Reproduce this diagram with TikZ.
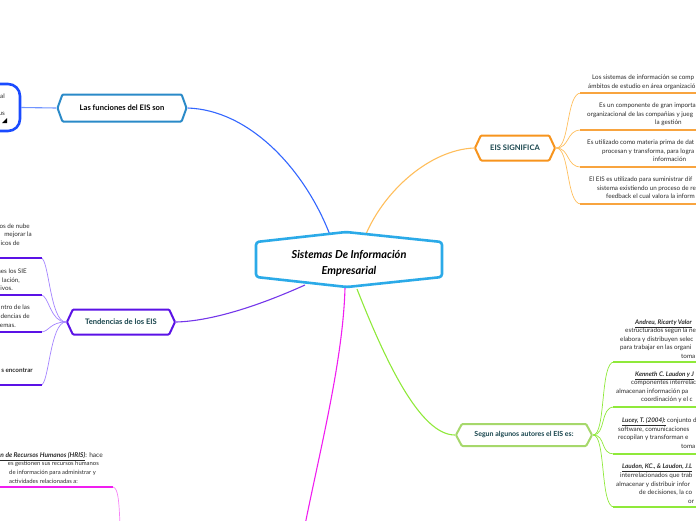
\documentclass[tikz,border=0pt]{standalone}
\usepackage{fontspec}
\setmainfont{Lato}
\usepackage{xcolor}
\usetikzlibrary{shapes.symbols,backgrounds}
\definecolor{csky}{HTML}{2BAAE8}
\definecolor{cblue}{HTML}{3366FF}
\definecolor{csteel}{HTML}{2A8AC8}
\definecolor{croyal}{HTML}{1A4BFF}
\definecolor{corange}{HTML}{F7941D}
\definecolor{corangel}{HTML}{FFBE5C}
\definecolor{cpurple}{HTML}{5B12E6}
\definecolor{cpurplel}{HTML}{A383FF}
\definecolor{cgreen}{HTML}{A6D86B}
\definecolor{cgreenl}{HTML}{8FE93A}
\definecolor{cmag}{HTML}{F01EF0}
\definecolor{cteal}{HTML}{17444C}
\definecolor{ctext}{HTML}{2B2B2B}

\begin{document}
\begin{tikzpicture}[x=1pt,y=-1pt,
  topic/.style={signal,signal to=west and east,draw,line width=2pt,fill=white,
                rounded corners=1pt,inner sep=0pt,text=cteal,
                font=\fontsize{7.6}{9}\selectfont\bfseries},
  leaf/.style={inner sep=0pt,text=ctext,font=\fontsize{6.3}{7}\selectfont},
  link/.style={line width=1.1pt},
  twig/.style={line width=0.7pt},
  rule/.style={line width=1.4pt}
]
\useasboundingbox (0,0) rectangle (696,520);

% central topic
\draw[csky,line width=2.6pt,fill=white,rounded corners=3pt]
  (256,242) -- (346,232) -- (442,242) -- (442,277) -- (347,287) -- (256,277) -- cycle;
\node[font=\fontsize{11}{16}\selectfont\bfseries\itshape,align=center] (sistemas) at (349,263)
  {Sistemas De Información\\Empresarial};
\coordinate (sis-n1) at (330,235);
\coordinate (sis-n2) at (366,234);
\coordinate (sis-s1) at (305,285);
\coordinate (sis-s2) at (345,288);
\coordinate (sis-s3) at (357,289);
\coordinate (mag-end) at (305,525);

% main topics
\node[topic,text=black,draw=csteel,minimum width=129pt,minimum height=27pt,
      signal pointer angle=140] (funciones) at (122,108) {Las funciones del EIS son};
\node[topic,draw=corange,minimum width=80pt,minimum height=25pt,
      signal pointer angle=130] (significa) at (515,148) {EIS SIGNIFICA};
\node[topic,draw=cpurple,minimum width=108pt,minimum height=25pt,
      signal pointer angle=130] (tendencias) at (121,322) {Tendencias de los EIS};
\node[topic,draw=cgreen,minimum width=136pt,minimum height=22pt,
      signal pointer angle=124,font=\fontsize{7}{8}\selectfont\bfseries]
      (segun) at (524,435) {Segun algunos autores el EIS es:};

% box at top left
\node[draw=croyal,line width=2.6pt,rounded corners=12pt,fill=white,
      minimum width=80pt,minimum height=47pt] (funbox) at (-20,107.5) {};
\node[leaf,anchor=mid east] (fb-1) at (5,96) {al};
\node[leaf,anchor=mid east] (fb-2) at (5,113) {us};
\fill (2,123) -- (7,123) -- (7,118) -- cycle;

\begin{scope}[on background layer]
\draw[link,cblue] (sis-n1) .. controls (305,170) and (250,110) .. (funciones.east);
\draw[link,cblue!70] (funbox.east) -- (funciones.west);
\draw[link,corangel] (sis-n2) .. controls (385,190) and (430,150) .. (significa.west);
\draw[link,cpurple!85] (sis-s1) .. controls (265,303) and (215,321) .. (tendencias.east);
\draw[link,cgreenl] (sis-s3) .. controls (385,360) and (420,435) .. (segun.west);
\draw[link,cmag] (sis-s2) .. controls (343,360) and (320,450) .. (mag-end);
\end{scope}

% EIS SIGNIFICA
\foreach \y in {93,130,167,204}{
  \draw[twig,corangel] (significa.east) .. controls (570,148) and (566,\y) .. (581,\y);
  \draw[rule,corange!85] (580,\y) -- (700,\y);
}
\foreach \x/\y/\t [count=\i] in {
  592/77/{Los sistemas de información se comp},
  588/86/{ámbitos de estudio en área organizació},
  599/105/{Es un componente de gran importa},
  587/114/{organizacional de las compañías y jueg},
  655/122/{la gestión},
  587/142/{Es utilizado como materia prima de dat},
  602/151/{procesan y transforma, para logra},
  653/159/{información},
  589/179/{El EIS es utilizado para suministrar dif},
  597/188/{sistema existiendo un proceso de re},
  606/196/{feedback el cual valora la inform}}
  \node[leaf,anchor=mid west] (sig-\i) at (\x,\y) {\t};

% Tendencias de los EIS
\foreach \y in {258,295,332,385}{
  \draw[twig,cpurplel] (tendencias.west) .. controls (50,322) and (49,\y) .. (41,\y);
  \draw[rule,cpurple] (42,\y) -- (-5,\y);
}
\foreach \x/\y/\t [count=\i] in {
  30/226/{os de nube},
  32/234/{mejorar la},
  20/243/{icos de},
  27/271/{nes los SIE},
  20/280/{lación,},
  13/288/{ivos.},
  30/307/{ntro de las},
  30/316/{dencias de},
  16/325/{stemas.},
  33/370/{\bfseries s encontrar}}
  \node[leaf,anchor=mid east] (ten-\i) at (\x,\y) {\t};

% Segun algunos autores
\foreach \y in {362,407,454,507}{
  \draw[twig,cgreenl] (segun.east) .. controls (606,435) and (600,\y) .. (614,\y);
  \draw[rule,cgreenl] (613,\y) -- (700,\y);
}
\foreach \x/\y/\t [count=\i] in {
  635/322/{\underline{\bfseries\itshape Andreu, Ricarty Valor}},
  625/330/{estructurados según la ne},
  620/339/{elabora y distribuyen selec},
  620/347/{para trabajar en las organi},
  681/356/{toma},
  635/374/{\underline{\bfseries\itshape Kenneth C. Laudon y J}},
  631/382/{componentes interrelac},
  616/391/{almacenan información pa},
  641/399/{coordinación y el c},
  622/420/{\underline{\bfseries\itshape Lucey, T. (2004):} conjunto d},
  618/429/{software, comunicaciones},
  618/437/{recopilan y transforman e},
  681/446/{toma},
  622/466/{\underline{\bfseries\itshape Laudon, KC., \& Laudon, J.L}},
  620/475/{interrelacionados que trab},
  616/484/{almacenar y distribuir infor},
  639/492/{de decisiones, la co},
  688/501/{or}}
  \node[leaf,anchor=mid west] (aut-\i) at (\x,\y) {\t};

% HRIS
\coordinate (hris-end) at (120,525);
\draw[rule,cmag] (-5,487) -- (113,487);
\draw[twig,cmag!55] (113,487) .. controls (118,488) and (119,500) .. (hris-end);
\node[leaf,anchor=mid east,font=\fontsize{6.6}{7}\selectfont] (hr-1) at (103,455)
  {\underline{\bfseries\itshape n de Recursos Humanos (HRIS)}: hace};
\node[leaf,anchor=mid east,font=\fontsize{5.9}{7}\selectfont] (hr-2) at (99,463)
  {es gestionen sus recursos humanos};
\node[leaf,anchor=mid west,font=\fontsize{5.9}{7}\selectfont] (hr-3) at (9,472)
  {de información para administrar y};
\node[leaf,anchor=mid west,font=\fontsize{5.9}{7}\selectfont] (hr-4) at (9,481)
  {actividades relacionadas a:};
\end{tikzpicture}
\end{document}
